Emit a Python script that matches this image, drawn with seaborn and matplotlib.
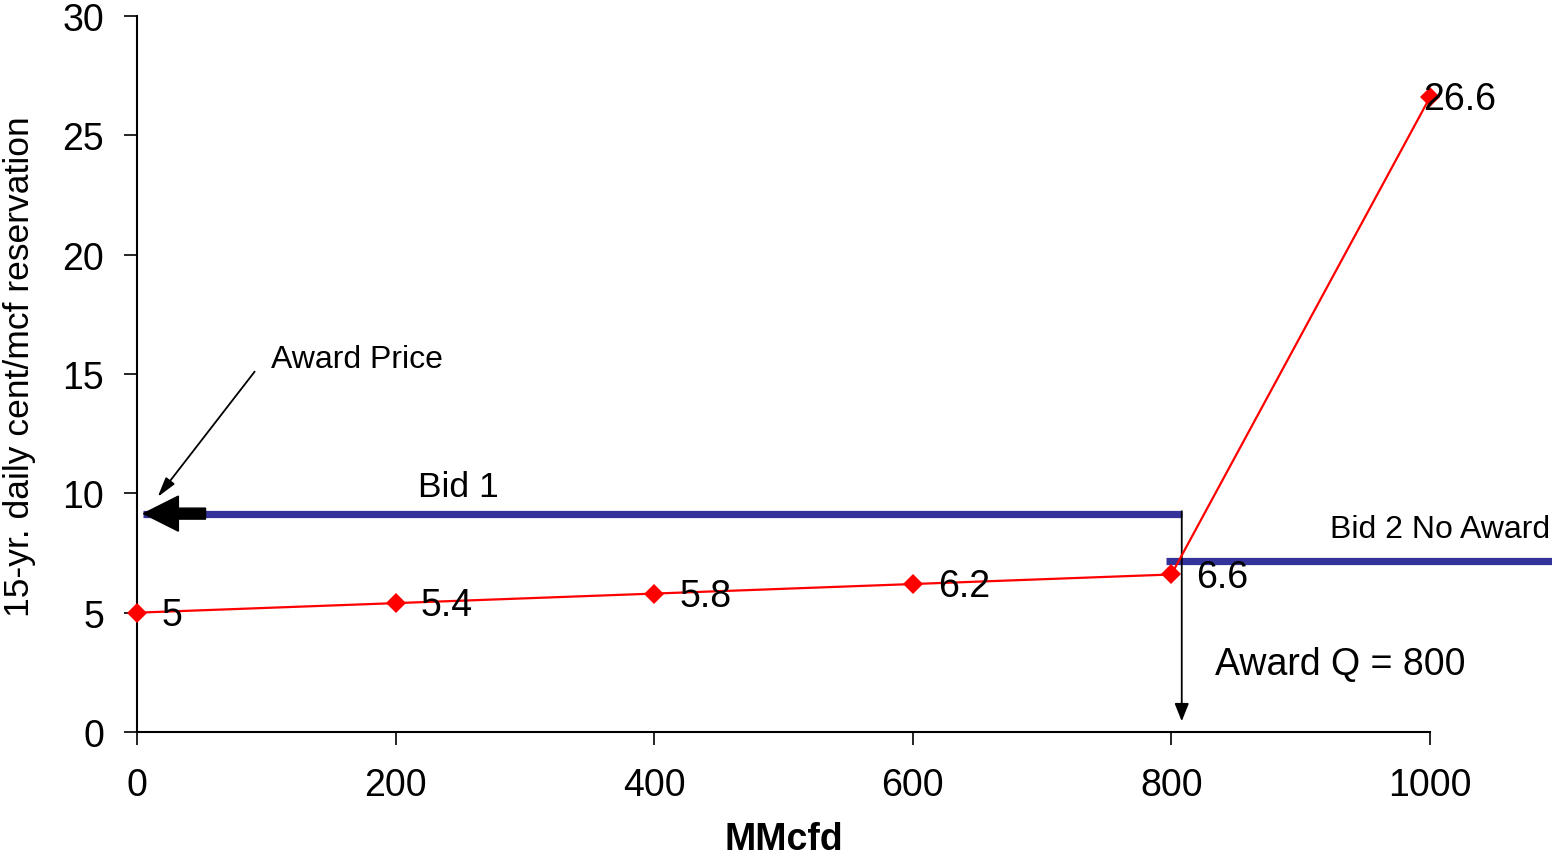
import matplotlib
matplotlib.use("Agg")
import matplotlib.pyplot as plt
import seaborn as sns
import pandas as pd

# Supply curve: quantity offered (MMcfd) vs. reservation price
mmcfd = [0, 200, 400, 600, 800, 1000]
price = [5, 5.4, 5.8, 6.2, 6.6, 26.6]

# Bids
bid1_x = [5, 808]
bid1_price = 9.15
bid2_x = [796, 1094]
bid2_price = 7.15

x_ticks = [0, 200, 400, 600, 800, 1000]
y_ticks = [0, 5, 10, 15, 20, 25, 30]

award_q = 800

sns.set_theme(style="white")
plt.rcParams["font.family"] = ["Liberation Sans", "DejaVu Sans"]
plt.rcParams["text.color"] = "black"
plt.rcParams["axes.labelcolor"] = "black"

RED = "#ff0000"
NAVY = "#333399"

fig = plt.figure(figsize=(15.52, 8.62), dpi=100)
ax = fig.add_axes([137 / 1552, 1 - 733 / 862, 1293 / 1552, 716 / 862])

df = pd.DataFrame({"MMcfd": mmcfd, "price": price})

# Bid lines
ax.plot(bid1_x, [bid1_price] * 2, color=NAVY, lw=5.2, solid_capstyle="butt",
        zorder=2, clip_on=False)
ax.plot(bid2_x, [bid2_price] * 2, color=NAVY, lw=5.2, solid_capstyle="butt",
        zorder=2, clip_on=False)

sns.lineplot(data=df, x="MMcfd", y="price", ax=ax, color=RED, lw=1.6,
             marker="D", markersize=10, markeredgewidth=0, zorder=4,
             clip_on=False)

# Value labels next to each point
for i, (xv, yv) in enumerate(zip(mmcfd, price)):
    dx = -5 if i == len(mmcfd) - 1 else 18
    ax.annotate(f"{yv:g}", (xv, yv), xytext=(dx, -1.5),
                textcoords="offset points", ha="left", va="center",
                fontsize=27, color="black", zorder=5)

# Thick arrow pointing at the award price on the price axis
ax.arrow(53, bid1_price, -48, 0, width=0.46, head_width=1.47,
         head_length=27, length_includes_head=True, color="black",
         zorder=3, clip_on=False)

# Award price callout
ax.text(103.6, 15.29, "Award Price", fontsize=23, ha="left", va="baseline")
ax.annotate("", xy=(16, 9.85), xytext=(91, 15.1),
            arrowprops=dict(arrowstyle="-|>,head_length=1.0,head_width=0.28",
                            color="black", lw=1.3, shrinkA=0, shrinkB=0))

# Award quantity drop line
ax.annotate("", xy=(bid1_x[1], 0.45), xytext=(bid1_x[1], bid1_price + 0.1),
            arrowprops=dict(arrowstyle="-|>,head_length=0.9,head_width=0.36",
                            color="black", lw=1.3, shrinkA=0, shrinkB=0),
            zorder=3)

ax.text(217, 9.89, "Bid 1", fontsize=25.5, ha="left", va="baseline")
ax.text(922.6, 8.17, "Bid 2 No Award", fontsize=23, ha="left", va="baseline")
ax.text(833.7, 2.43, f"Award Q = {award_q}", fontsize=27, ha="left",
        va="baseline")

ax.set_xlim(0, 1000)
ax.set_ylim(0, 30)
ax.set_xticks(x_ticks)
ax.set_yticks(y_ticks)
ax.tick_params(axis="both", which="major", direction="out", length=9.5,
               width=1.2, color="black", labelsize=27, labelcolor="black",
               bottom=True, left=True)
ax.tick_params(axis="x", pad=16)
ax.tick_params(axis="y", pad=14)

for side in ["top", "right"]:
    ax.spines[side].set_visible(False)
for side in ["left", "bottom"]:
    ax.spines[side].set_color("black")
    ax.spines[side].set_linewidth(1.5)

ax.set_xlabel("MMcfd", fontsize=27, fontweight="bold", labelpad=13)
ax.set_ylabel("15-yr. daily cent/mcf reservation", fontsize=25.5)
ax.yaxis.set_label_coords(-0.078, 0.512)

fig.savefig("out.png", dpi=100)
